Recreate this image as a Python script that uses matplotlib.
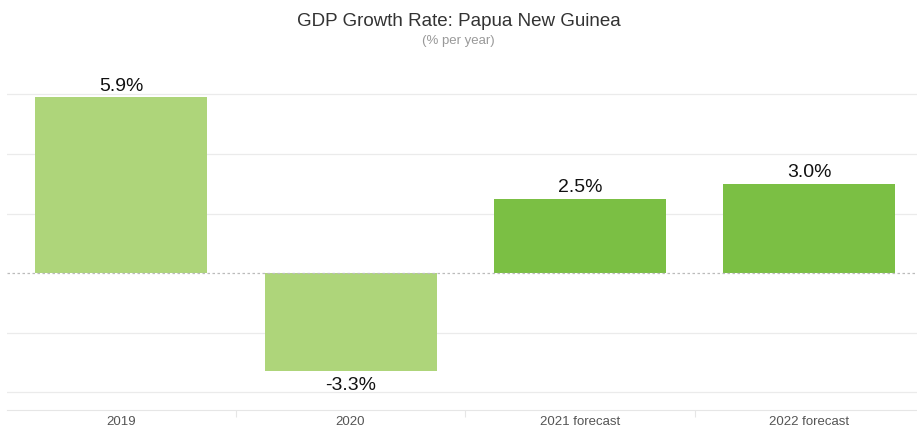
import matplotlib.pyplot as plt
from matplotlib.ticker import FixedLocator

categories = ['2019', '2020', '2021 forecast', '2022 forecast']
growth = [5.9, -3.3, 2.5, 3.0]
labels = ['5.9%', '-3.3%', '2.5%', '3.0%']
is_forecast = [False, False, True, True]

plt.rcParams['font.family'] = ['Liberation Sans', 'DejaVu Sans']

fig = plt.figure(figsize=(9.17, 4.28), dpi=100)
ax = fig.add_axes([6.5 / 917, 18 / 428, 917.5 / 917, 348 / 428])

colors = ['#7bbf44' if f else '#aed57a' for f in is_forecast]
x = list(range(len(categories)))
bars = ax.bar(x, growth, width=0.75, color=colors, zorder=2)

for b, v, lab in zip(bars, growth, labels):
    if v >= 0:
        ax.annotate(lab, (b.get_x() + b.get_width() / 2, v), xytext=(0, 2),
                    textcoords='offset points', ha='center', va='bottom', fontsize=14, color='#111111')
    else:
        ax.annotate(lab, (b.get_x() + b.get_width() / 2, v), xytext=(0, -4),
                    textcoords='offset points', ha='center', va='top', fontsize=14, color='#111111')

ax.set_xlim(-0.5, 3.5)
ax.set_ylim(-4.6, 7.09)

# grid lines
for g in [-4, -2, 2, 4, 6]:
    ax.axhline(g, color='#ebebeb', lw=0.9, zorder=1)
ax.axhline(0, color='#bbbbbb', lw=0.9, ls=(0, (2, 2)), zorder=3)

ax.set_yticks([])
ax.set_xticks(x)
ax.set_xticklabels(categories, fontsize=9.5, color='#555555')
ax.tick_params(axis='x', length=0, pad=4.5)
ax.xaxis.set_minor_locator(FixedLocator([0.5, 1.5, 2.5]))
ax.tick_params(axis='x', which='minor', length=5, color='#e6e6e6', width=0.8)

for s in ['top', 'right', 'left']:
    ax.spines[s].set_visible(False)
ax.spines['bottom'].set_color('#e6e6e6')
ax.spines['bottom'].set_linewidth(0.8)

fig.text(0.5, 1 - 22 / 428, 'GDP Growth Rate: Papua New Guinea', ha='center', va='center',
         fontsize=13.5, color='#333333')
fig.text(0.5, 1 - 41 / 428, '(% per year)', ha='center', va='center', fontsize=9.5, color='#999999')

fig.savefig('out.png', dpi=100)
